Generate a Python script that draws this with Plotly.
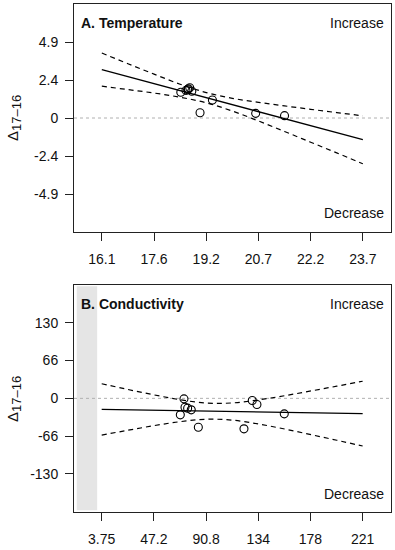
import plotly.graph_objects as go

# ---------------- Data ----------------
# Panel A: Temperature
temp_x = [18.40, 18.55, 18.60, 18.62, 18.66, 18.72, 18.96, 19.32, 20.58, 21.42]
temp_y = [1.66, 1.78, 1.82, 1.88, 1.95, 1.72, 0.34, 1.16, 0.30, 0.15]
temp_fit_x = [16.1, 23.7]
temp_fit_y = [3.12, -1.40]
temp_band_x = [16.1, 16.86, 17.62, 18.38, 19.14, 19.9, 20.66, 21.42, 22.18, 22.94, 23.7]
temp_upper = [4.19, 3.50, 2.83, 2.18, 1.64, 1.27, 1.01, 0.78, 0.56, 0.35, 0.14]
temp_lower = [2.05, 1.83, 1.61, 1.34, 0.98, 0.45, -0.19, -0.87, -1.56, -2.25, -2.95]
temp_xticks = [16.1, 17.62, 19.14, 20.66, 22.18, 23.7]
temp_xtick_text = ["16.1", "17.6", "19.2", "20.7", "22.2", "23.7"]
temp_yticks = [-4.9, -2.45, 0, 2.45, 4.9]
temp_ytick_text = ["-4.9", "-2.4", "0", "2.4", "4.9"]

# Panel B: Conductivity
cond_x = [72.25, 73.1, 75.3, 78.3, 69.2, 84.2, 122.2, 129.1, 133.0, 155.75]
cond_y = [-0.9, -15.4, -17.1, -20.0, -28.7, -50.2, -53.1, -3.8, -10.8, -27.0]
cond_fit_x = [3.75, 221]
cond_fit_y = [-19.3, -26.6]
cond_band_x = [3.75, 25.5, 47.2, 69.0, 90.8, 112.4, 134, 156, 178, 199.5, 221]
cond_upper = [25.4, 15.5, 6.1, -2.4, -8.1, -8.0, -2.8, 4.6, 12.9, 21.2, 29.8]
cond_lower = [-64.0, -55.6, -47.6, -40.6, -36.4, -37.9, -44.6, -53.4, -63.2, -73.0, -83.0]
cond_xticks = [3.75, 47.2, 90.65, 134.1, 177.55, 221]
cond_xtick_text = ["3.75", "47.2", "90.8", "134", "178", "221"]
cond_yticks = [-131.6, -65.8, 0, 65.8, 131.6]
cond_ytick_text = ["-130", "-66", "0", "66", "130"]
cond_invalid_max = 0  # shaded region: conductivity below zero

FONT = "Liberation Sans, Arial, sans-serif"

fig = go.Figure()

def add_panel(xa, ya, px, py, fx, fy, bx, bu, bl):
    dash = "5px,4px"
    fig.add_trace(go.Scatter(x=bx, y=bu, mode="lines", xaxis=xa, yaxis=ya,
                             line=dict(color="black", width=1.2, dash=dash, shape="spline"),
                             hoverinfo="skip"))
    fig.add_trace(go.Scatter(x=bx, y=bl, mode="lines", xaxis=xa, yaxis=ya,
                             line=dict(color="black", width=1.2, dash=dash, shape="spline"),
                             hoverinfo="skip"))
    fig.add_trace(go.Scatter(x=fx, y=fy, mode="lines", xaxis=xa, yaxis=ya,
                             line=dict(color="black", width=1.3)))
    fig.add_trace(go.Scatter(x=px, y=py, mode="markers", xaxis=xa, yaxis=ya,
                             marker=dict(symbol="circle-open", size=8, color="black",
                                         line=dict(width=1.1, color="black"))))

add_panel("x", "y", temp_x, temp_y, temp_fit_x, temp_fit_y, temp_band_x, temp_upper, temp_lower)
add_panel("x2", "y2", cond_x, cond_y, cond_fit_x, cond_fit_y, cond_band_x, cond_upper, cond_lower)

xdom = [74 / 395, 391 / 395]
ydomA = [1 - 232 / 550, 1 - 4 / 550]
ydomB = [1 - 511.7 / 550, 1 - 285 / 550]

common_axis = dict(showline=True, linecolor="#222222", linewidth=1, mirror=True,
                   ticks="outside", ticklen=8, tickcolor="#222222", tickwidth=1,
                   showgrid=False, zeroline=False,
                   tickfont=dict(family=FONT, size=14, color="#111111"))

fig.update_layout(
    width=395, height=550,
    margin=dict(l=0, r=0, t=0, b=0),
    paper_bgcolor="white", plot_bgcolor="white",
    showlegend=False,
    xaxis=dict(domain=xdom, range=[15.29, 24.52], anchor="y",
               tickmode="array", tickvals=temp_xticks, ticktext=temp_xtick_text,
               ticklabelstandoff=6, **common_axis),
    yaxis=dict(domain=ydomA, range=[-7.35, 7.35], anchor="x",
               tickmode="array", tickvals=temp_yticks, ticktext=temp_ytick_text,
               ticklabelstandoff=4, **common_axis),
    xaxis2=dict(domain=xdom, range=[-19.3, 244.6], anchor="y2",
                tickmode="array", tickvals=cond_xticks, ticktext=cond_xtick_text,
                ticklabelstandoff=6, **common_axis),
    yaxis2=dict(domain=ydomB, range=[-197.4, 197.4], anchor="x2",
                tickmode="array", tickvals=cond_yticks, ticktext=cond_ytick_text,
                ticklabelstandoff=4, **common_axis),
)

# shaded invalid region in panel B
fig.add_shape(type="rect", xref="x2", yref="y2 domain", x0=-17.0, x1=cond_invalid_max,
              y0=0.006, y1=0.994, fillcolor="#e5e5e5", line=dict(width=0), layer="below")

# dotted zero lines
for xr, yr in (("x domain", "y"), ("x2 domain", "y2")):
    fig.add_shape(type="line", xref=xr, yref=yr, x0=0, x1=1, y0=0, y1=0,
                  line=dict(color="#b0b0b0", width=1, dash="dot"), layer="below")

def ann(text, x, y, xanchor, bold=False, size=14):
    fig.add_annotation(text=f"<b>{text}</b>" if bold else text, x=x, y=y,
                       xref="paper", yref="paper", xanchor=xanchor, yanchor="middle",
                       showarrow=False, font=dict(family=FONT, size=size, color="#111111"))

ann("A. Temperature", 79 / 395, 1 - 23 / 550, "left", bold=True)
ann("Increase", 386 / 395, 1 - 23 / 550, "right")
ann("Decrease", 386 / 395, 1 - 213 / 550, "right")
ann("B. Conductivity", 79 / 395, 1 - 304 / 550, "left", bold=True)
ann("Increase", 386 / 395, 1 - 304 / 550, "right")
ann("Decrease", 386 / 395, 1 - 494 / 550, "right")

for yc in (118, 399):
    fig.add_annotation(text="Δ<sub><span style='font-size:13px'>17–16</span></sub>",
                       x=14 / 395, y=1 - yc / 550,
                       xref="paper", yref="paper", xanchor="center", yanchor="middle",
                       textangle=-90, showarrow=False,
                       font=dict(family=FONT, size=15, color="#111111"))

fig.write_html("out.html", config={"displayModeBar": False},
               post_script="document.body.style.margin='0';document.body.style.overflow='hidden';")
